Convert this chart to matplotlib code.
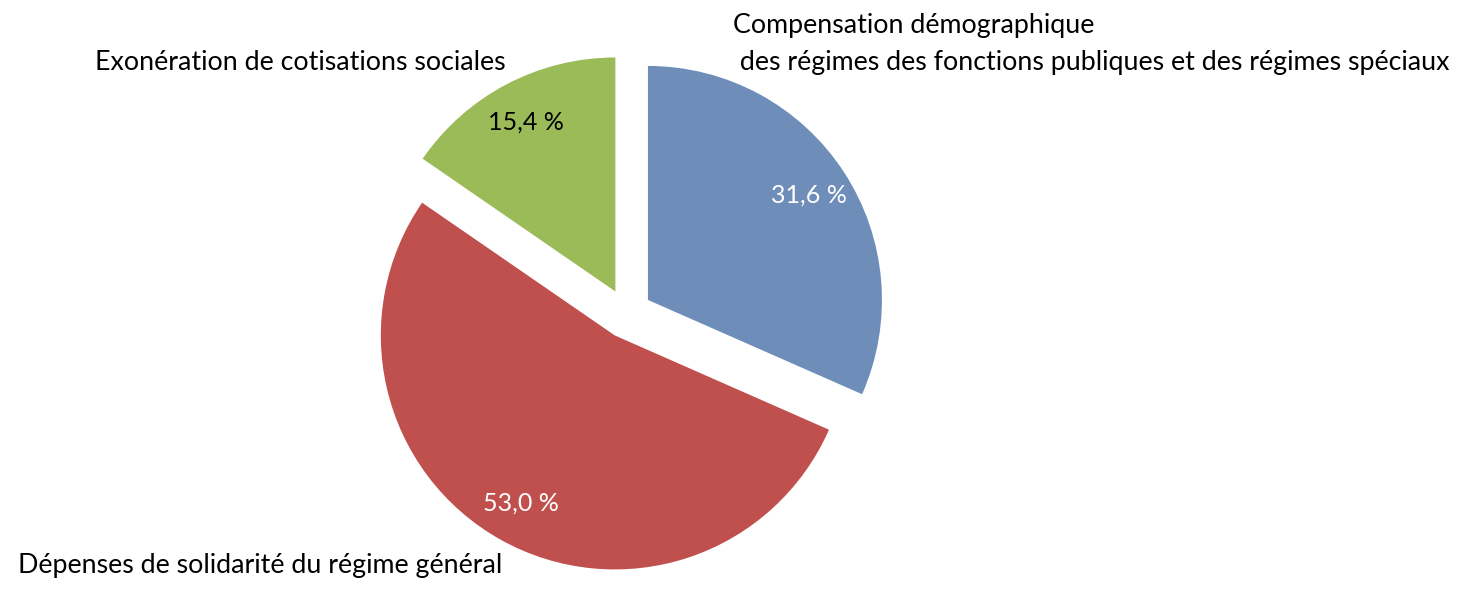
import matplotlib
matplotlib.use("Agg")
import matplotlib.pyplot as plt

categories = [
    "Compensation démographique\n des régimes des fonctions publiques et des régimes spéciaux",
    "Dépenses de solidarité du régime général",
    "Exonération de cotisations sociales",
]
values = [31.6, 53.0, 15.4]
colors = ["#6E8DB9", "#C0504D", "#9BBB59"]
pct_colors = ["white", "white", "black"]

W, H = 1474, 610
fig = plt.figure(figsize=(W / 100, H / 100), dpi=100)
ax = fig.add_axes([0, 0, 1, 1])

plt.rcParams["font.family"] = ["Lato", "DejaVu Sans"]
FS = 19.3
FS_PCT = 18

radius = 234
center = (627, H - 313.6)
wedges, texts, autotexts = ax.pie(
    values,
    colors=colors,
    startangle=90,
    counterclock=False,
    radius=radius,
    center=center,
    explode=[25] * len(values),
    autopct=lambda p: f"{p:.1f} %".replace(".", ","),
    pctdistance=0.82,
    wedgeprops=dict(linewidth=0),
    textprops=dict(fontsize=FS_PCT, family=["Lato", "DejaVu Sans"]),
    frame=True,
)
for t, c in zip(autotexts, pct_colors):
    t.set_color(c)
ax.set_xlim(0, W)
ax.set_ylim(0, H)
ax.set_aspect("equal")
ax.axis("off")

label_pos = [(733, H - 44), (18, H - 565), (95, H - 62)]
for cat, (x, y) in zip(categories, label_pos):
    ax.text(x, y, cat, fontsize=FS, ha="left", va="center", color="black",
            family=["Lato", "DejaVu Sans"], linespacing=1.62)

fig.savefig("out.png", dpi=100)
